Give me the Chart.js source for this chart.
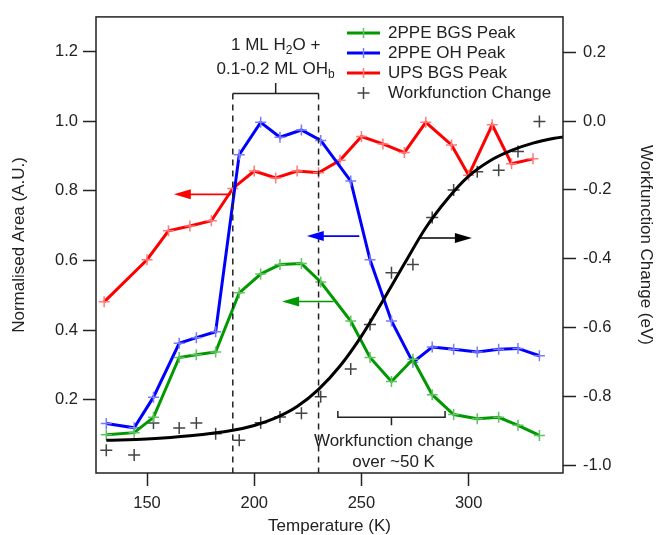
<!DOCTYPE html>
<html>
<head>
<meta charset="utf-8">
<script src="https://cdn.jsdelivr.net/npm/chart.js@4.4.1/dist/chart.umd.min.js"></script>
<style>
  html, body { margin: 0; padding: 0; background: #fff; }
  #wrap { width: 659px; height: 535px; }
</style>
</head>
<body>
<div id="wrap"><canvas id="chart" width="659" height="535"></canvas></div>
<script>
// Temperatures (K) of the 2PPE scans, shared by BGS, OH and workfunction data
const tempsPPE = [131, 144, 153, 165, 173, 182, 193, 203, 212, 222, 231, 245, 254, 264, 274, 283, 293, 304, 314, 323, 333];
const bgsPeak = [0.099, 0.105, 0.149, 0.321, 0.329, 0.337, 0.507, 0.561, 0.588, 0.591, 0.538, 0.426, 0.321, 0.252, 0.316, 0.214, 0.157, 0.145, 0.149, 0.126, 0.097];
const ohPeak = [0.131, 0.119, 0.207, 0.362, 0.378, 0.395, 0.904, 0.997, 0.954, 0.975, 0.945, 0.828, 0.602, 0.426, 0.307, 0.351, 0.345, 0.337, 0.345, 0.347, 0.326];
const wfChange = [-0.957, -0.971, -0.878, -0.892, -0.878, -0.909, -0.928, -0.877, -0.860, -0.849, -0.801, -0.721, -0.591, -0.441, -0.417, -0.280, -0.200, -0.147, -0.143, -0.088, -0.001];

// UPS scans
const tempsUPS = [130, 150, 160, 170, 180, 190, 200, 210, 220, 230, 240, 250, 260, 270, 280, 292, 300, 311, 320, 330];
const upsPeak = [0.481, 0.602, 0.685, 0.699, 0.714, 0.807, 0.857, 0.837, 0.857, 0.852, 0.888, 0.956, 0.935, 0.910, 0.997, 0.932, 0.845, 0.990, 0.878, 0.892];

// sigmoid fit through the workfunction data
const fitTemps = [131, 150, 170, 190, 200, 210, 220, 230, 240, 250, 260, 270, 280, 290, 300, 310, 320, 330, 340, 344];
const fitValues = [-0.928, -0.924, -0.915, -0.899, -0.885, -0.863, -0.830, -0.780, -0.712, -0.625, -0.522, -0.415, -0.310, -0.227, -0.160, -0.115, -0.085, -0.064, -0.050, -0.046];

const xTicks = [150, 200, 250, 300];
const leftTicks = [0.2, 0.4, 0.6, 0.8, 1.0, 1.2];
const rightTicks = [-1.0, -0.8, -0.6, -0.4, -0.2, 0.0, 0.2];

const INK = "#222";
const FONT = "'Liberation Sans', Arial, sans-serif";

const pts = (xs, ys) => xs.map((x, i) => ({ x: x, y: ys[i] }));

// arrows: [fromT, toT, value, axis, colour]
const arrows = [
  [189, 162.5, 0.79, "y", "#ff0000"],
  [249, 224.5, 0.67, "y", "#0000ff"],
  [237, 213, 0.482, "y", "#009900"],
  [276.5, 301.5, -0.34, "y1", "#000"],
];

const series = [
  { label: "2PPE BGS Peak", color: "#009900", cross: "#5fc35f" },
  { label: "2PPE OH Peak", color: "#0000ff", cross: "#7a7aff" },
  { label: "UPS BGS Peak", color: "#ff0000", cross: "#ff7a7a" },
];

function drawArrow(ctx, x1, x2, y, color) {
  const dir = Math.sign(x2 - x1);
  ctx.save();
  ctx.strokeStyle = color;
  ctx.fillStyle = color;
  ctx.lineWidth = 1.6;
  ctx.beginPath();
  ctx.moveTo(x1, y);
  ctx.lineTo(x2 - dir * 14, y);
  ctx.stroke();
  ctx.beginPath();
  ctx.moveTo(x2, y);
  ctx.lineTo(x2 - dir * 17, y - 5);
  ctx.lineTo(x2 - dir * 17, y + 5);
  ctx.closePath();
  ctx.fill();
  ctx.restore();
}

// draws [text, isSubscript] pieces centred on cx
function drawRich(ctx, parts, cx, cy, size) {
  const sub = Math.round(size * 0.68);
  let w = 0;
  parts.forEach(([t, s]) => {
    ctx.font = (s ? sub : size) + "px " + FONT;
    w += ctx.measureText(t).width;
  });
  let x = cx - w / 2;
  ctx.textAlign = "left";
  ctx.textBaseline = "middle";
  parts.forEach(([t, s]) => {
    ctx.font = (s ? sub : size) + "px " + FONT;
    ctx.fillText(t, x, s ? cy + 6 : cy);
    x += ctx.measureText(t).width;
  });
}

const annotations = {
  id: "annotations",
  afterDatasetsDraw(chart) {
    const { ctx, chartArea: a, scales } = chart;
    const x = scales.x, y = scales.y;

    // frame
    ctx.save();
    ctx.strokeStyle = INK;
    ctx.lineWidth = 1.5;
    ctx.strokeRect(a.left, a.top, a.right - a.left, a.bottom - a.top);

    // dashed region 190-230 K
    const xa = x.getPixelForValue(190), xb = x.getPixelForValue(230);
    const yTop = y.getPixelForValue(1.08);
    ctx.setLineDash([6, 5]);
    ctx.lineWidth = 1.5;
    ctx.beginPath();
    ctx.moveTo(xa, yTop); ctx.lineTo(xa, a.bottom);
    ctx.moveTo(xb, yTop); ctx.lineTo(xb, a.bottom);
    ctx.stroke();
    ctx.setLineDash([]);
    ctx.beginPath();
    ctx.moveTo(xa, yTop); ctx.lineTo(xb, yTop);
    ctx.moveTo((xa + xb) / 2, yTop); ctx.lineTo((xa + xb) / 2, y.getPixelForValue(1.11));
    ctx.stroke();

    ctx.fillStyle = INK;
    drawRich(ctx, [["1 ML H", false], ["2", true], ["O +", false]], (xa + xb) / 2, 45, 17);
    drawRich(ctx, [["0.1-0.2 ML OH", false], ["b", true]], (xa + xb) / 2, 69, 17);

    // workfunction change bracket
    const wa = x.getPixelForValue(239), wb = x.getPixelForValue(289);
    const wy = y.getPixelForValue(0.149), wc = x.getPixelForValue(264);
    ctx.beginPath();
    ctx.moveTo(wa, y.getPixelForValue(0.167)); ctx.lineTo(wa, wy); ctx.lineTo(wb, wy); ctx.lineTo(wb, y.getPixelForValue(0.167));
    ctx.moveTo(wc, wy); ctx.lineTo(wc, y.getPixelForValue(0.126));
    ctx.stroke();
    drawRich(ctx, [["Workfunction change", false]], x.getPixelForValue(265), y.getPixelForValue(0.08), 17);
    drawRich(ctx, [["over ~50 K", false]], x.getPixelForValue(265), y.getPixelForValue(0.02), 17);
    ctx.restore();

    arrows.forEach(([t1, t2, v, axis, c]) => {
      drawArrow(ctx, x.getPixelForValue(t1), x.getPixelForValue(t2), scales[axis].getPixelForValue(v), c);
    });

    // legend inside the plot, top right
    ctx.save();
    ctx.font = "17px " + FONT;
    ctx.textBaseline = "middle";
    ctx.textAlign = "left";
    const rows = [33, 53, 73, 93];
    series.forEach((s, i) => {
      const ly = rows[i];
      ctx.strokeStyle = s.color;
      ctx.lineWidth = 3;
      ctx.beginPath(); ctx.moveTo(347, ly); ctx.lineTo(380, ly); ctx.stroke();
      ctx.strokeStyle = s.cross;
      ctx.lineWidth = 1.5;
      ctx.beginPath(); ctx.moveTo(363.5, ly - 5); ctx.lineTo(363.5, ly + 5); ctx.stroke();
      ctx.fillStyle = INK;
      ctx.fillText(s.label, 388, ly);
    });
    ctx.strokeStyle = "#444";
    ctx.lineWidth = 1.5;
    ctx.beginPath();
    ctx.moveTo(357.5, rows[3]); ctx.lineTo(369.5, rows[3]);
    ctx.moveTo(363.5, rows[3] - 6); ctx.lineTo(363.5, rows[3] + 6);
    ctx.stroke();
    ctx.fillStyle = INK;
    ctx.fillText("Workfunction Change", 388, rows[3]);
    ctx.restore();
  },
};

function lineSet(s, data) {
  return {
    label: s.label,
    data: data,
    yAxisID: "y",
    borderColor: s.color,
    borderWidth: 3,
    pointStyle: "cross",
    pointRadius: 5.5,
    pointBorderWidth: 1.5,
    pointBorderColor: s.cross,
    pointBackgroundColor: s.cross,
    tension: 0,
  };
}

const datasets = [
  {
    label: "fit",
    data: pts(fitTemps, fitValues),
    yAxisID: "y1",
    borderColor: "#000",
    borderWidth: 3,
    pointRadius: 0,
    cubicInterpolationMode: "monotone",
  },
  lineSet(series[0], pts(tempsPPE, bgsPeak)),
  lineSet(series[1], pts(tempsPPE, ohPeak)),
  lineSet(series[2], pts(tempsUPS, upsPeak)),
  {
    label: "Workfunction Change",
    data: pts(tempsPPE, wfChange),
    yAxisID: "y1",
    showLine: false,
    pointStyle: "cross",
    pointRadius: 6,
    pointBorderWidth: 1.5,
    pointBorderColor: "#444",
  },
];

const tickFont = { family: FONT, size: 16.5 };
const titleFont = { family: FONT, size: 17, lineHeight: 1 };

function fixedTicks(list) {
  return (scale) => { scale.ticks = list.map((v) => ({ value: v })); };
}

new Chart(document.getElementById("chart").getContext("2d"), {
  type: "line",
  data: { datasets: datasets },
  plugins: [annotations],
  options: {
    responsive: false,
    animation: false,
    layout: { padding: { top: 14, left: 0, right: 0, bottom: 0 } },
    plugins: { legend: { display: false }, tooltip: { enabled: false } },
    scales: {
      x: {
        type: "linear",
        min: 126.2,
        max: 344,
        afterBuildTicks: fixedTicks(xTicks),
        afterFit: (s) => { s.height = 62; },
        grid: { drawOnChartArea: false, tickLength: 13, tickColor: INK, tickWidth: 1.5 },
        border: { display: false },
        ticks: { font: tickFont, color: INK, padding: 8, maxRotation: 0 },
        title: { display: true, text: "Temperature (K)", font: titleFont, color: INK, padding: { top: 0, bottom: 0 } },
      },
      y: {
        position: "left",
        min: -0.011,
        max: 1.30,
        afterBuildTicks: fixedTicks(leftTicks),
        afterFit: (s) => { s.width = 96; },
        grid: { drawOnChartArea: false, tickLength: 13, tickColor: INK, tickWidth: 1.5 },
        border: { display: false },
        ticks: { font: tickFont, color: INK, padding: 5, callback: (v) => v.toFixed(1) },
        title: { display: true, text: "Normalised Area (A.U.)", font: titleFont, color: INK, padding: { top: 11, bottom: 0 } },
      },
      y1: {
        position: "right",
        min: -1.023,
        max: 0.303,
        afterBuildTicks: fixedTicks(rightTicks),
        afterFit: (s) => { s.width = 96; },
        grid: { drawOnChartArea: false, tickLength: 13, tickColor: INK, tickWidth: 1.5 },
        border: { display: false },
        ticks: { font: tickFont, color: INK, padding: 7, callback: (v) => v.toFixed(1) },
        title: { display: true, text: "Workfunction Change (eV)", font: titleFont, color: INK, padding: { top: 5, bottom: 0 } },
      },
    },
  },
});
</script>
</body>
</html>
